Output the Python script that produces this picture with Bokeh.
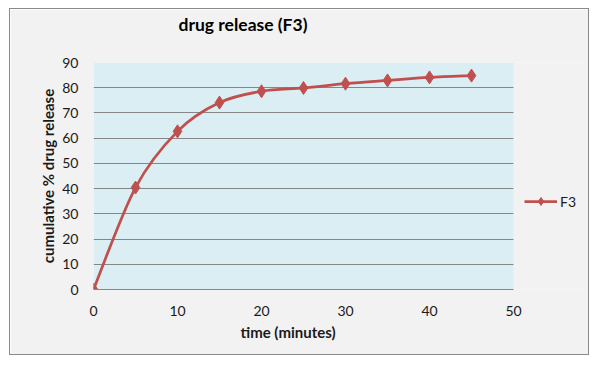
import numpy as np
from bokeh.plotting import figure
from bokeh.models import (Range1d, Legend, LegendItem, ColumnDataSource,
                          FixedTicker, Title, LinearAxis, BoxAnnotation)
from bokeh.embed import file_html
from bokeh.resources import INLINE

# ---- data ----
time_min = [0, 5, 10, 15, 20, 25, 30, 35, 40, 45]
release_f3 = [0, 40.4, 62.7, 74.1, 78.6, 79.9, 81.6, 82.9, 84.1, 84.8]
x_ticks = [0, 10, 20, 30, 40, 50]
y_ticks = [0, 10, 20, 30, 40, 50, 60, 70, 80, 90]
x_min, x_max = 0, 50
y_min, y_max = 0, 90
series_name = "F3"
title_text = "drug release (F3)"
x_title = "time (minutes)"
y_title = "cumulative % drug release"

RED = "#c0504d"
FONT = "Lato"
TXT = "#1a1a1a"
BG = "#f2f2f2"
PLOT_BG = "#dbeef4"
GRID = "#868686"

# smoothed curve (Catmull-Rom style Bezier segments, like Excel's smoothed line)
xs = np.array(time_min, dtype=float)
ys = np.array(release_f3, dtype=float)
xp = np.concatenate([[xs[0]], xs, [xs[-1]]])
yp = np.concatenate([[ys[0]], ys, [ys[-1]]])
n = len(xs)
seg = dict(x0=[], y0=[], x1=[], y1=[], cx0=[], cy0=[], cx1=[], cy1=[])
for i in range(n - 1):
    a, b, c, d = i, i + 1, i + 2, i + 3
    seg["x0"].append(xp[b]); seg["y0"].append(yp[b])
    seg["x1"].append(xp[c]); seg["y1"].append(yp[c])
    seg["cx0"].append(xp[b] + (xp[c] - xp[a]) / 6.0)
    seg["cy0"].append(yp[b] + (yp[c] - yp[a]) / 6.0)
    seg["cx1"].append(xp[c] - (xp[d] - xp[b]) / 6.0)
    seg["cy1"].append(yp[c] - (yp[d] - yp[b]) / 6.0)
seg_src = ColumnDataSource(seg)

# plot area is 420 px wide for 0..50; the frame continues 77 px further to hold the legend
PLOT_W, EXTRA_W = 420, 77
x_view_end = x_max * (PLOT_W + EXTRA_W) / PLOT_W

p = figure(width=580, height=347, output_backend="svg", toolbar_location=None,
           x_range=Range1d(x_min, x_view_end), y_range=Range1d(y_min, y_max),
           min_border_left=83, min_border_right=0, min_border_top=0,
           min_border_bottom=67, title=None)
p.styles = {"border": "1px solid #8a8a8a", "margin-left": "9px", "margin-top": "8px"}
p.background_fill_color = BG
p.border_fill_color = BG
p.outline_line_color = None

p.add_layout(BoxAnnotation(left=x_min, right=x_max, bottom=y_min, top=y_max,
                           fill_color=PLOT_BG, fill_alpha=1, line_color=None,
                           level="image"))

xa = p.below[0]
ya = p.left[0]

# invisible spacer axis (next to plot area), then the chart title above it
spacer = LinearAxis(ticker=FixedTicker(ticks=[x_min]), axis_line_color=None,
                    major_tick_line_color=None, minor_tick_line_color=None,
                    major_tick_in=0, major_tick_out=22, major_label_standoff=0,
                    major_label_overrides={x_min: ""},
                    major_label_text_font_size="1px")
p.add_layout(spacer, "above")
p.add_layout(Title(text=title_text, align="left", offset=85, text_font=FONT,
                   text_font_size="17.5px", text_font_style="bold", text_color="black",
                   standoff=8, vertical_align="top"), "above")

p.add_layout(Title(text=x_title, align="left", offset=147, text_font=FONT,
                   text_font_size="15px", text_font_style="bold", text_color=TXT,
                   standoff=4), "below")

p.xgrid.visible = False
yg = p.ygrid[0]
yg.ticker = FixedTicker(ticks=y_ticks)
yg.grid_line_color = GRID
yg.grid_line_width = 1
yg.cross_bounds = (x_min, x_max)
yg.level = "underlay"

xa.ticker = FixedTicker(ticks=x_ticks)
ya.ticker = FixedTicker(ticks=y_ticks)
xa.bounds = (x_min, x_max)
for ax in (xa, ya):
    ax.major_tick_line_color = None
    ax.minor_tick_line_color = None
    ax.major_label_text_font = FONT
    ax.major_label_text_font_size = "14px"
    ax.major_label_text_color = TXT
ya.major_label_standoff = 9
xa.major_label_standoff = 10
xa.axis_line_color = GRID
ya.axis_line_color = None

ya.axis_label = y_title
ya.axis_label_text_font = FONT
ya.axis_label_text_font_size = "15px"
ya.axis_label_text_font_style = "bold"
ya.axis_label_text_color = TXT
ya.axis_label_standoff = 2

curve = p.bezier(x0="x0", y0="y0", x1="x1", y1="y1", cx0="cx0", cy0="cy0",
                 cx1="cx1", cy1="cy1", source=seg_src, line_color=RED, line_width=2.75)
pts = p.scatter(time_min, release_f3, marker="diamond", size=13,
                fill_color=RED, line_color=RED)

legend = Legend(items=[LegendItem(label=series_name, renderers=[curve, pts])],
                location=(PLOT_W + 11, 78), padding=0, margin=0, glyph_width=33,
                glyph_height=20, label_height=20, label_standoff=3,
                label_text_font=FONT, label_text_font_size="14px",
                label_text_color=TXT, background_fill_alpha=0,
                border_line_color=None)
p.add_layout(legend)

open("out.html", "w").write(file_html(p, INLINE))
